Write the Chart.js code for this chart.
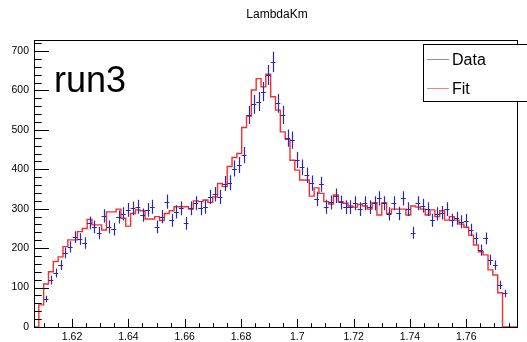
<!DOCTYPE html>
<html>
<head>
<meta charset="utf-8">
<script src="https://cdn.jsdelivr.net/npm/chart.js@4.4.0/dist/chart.umd.min.js"></script>
<style>
   html, body { margin: 0; padding: 0; background: #fff; }
</style>
</head>
<body>
<canvas id="hist" width="527" height="342"></canvas>
<script>
// histogram range (100 bins)
const histLow = 1.6065;
const histHigh = 1.778;

// measured counts per bin, null = empty bin
const dataCounts = [null, null,
   71, 119, 137, 157, 188, 203, 228, 223, 213, 264, 254, 238, 282, 254, 248, 279, 287,
   297, 301, 305, 284, 297, 305, 254, 280, 318, 271, 292, 301, 263, 301, 314, 301, 305,
   330, 337, 330, 364, 366, 402, 411, 436, 538, 565, 572, 597, 639, 672, 567, 538, 479, 474, 424, 405, 385, 365, 325, 362,
   305, 316, 333, 316, 304, 304, 314, 299, 314, 304, 314, 326, 314, 287, 314, 288, 326, 299, 239, 314,
   308, 299, 271, 287, 290, 299, 271, 276, 267, 270, 246, 225, 195, 225, 170, 157, 107, 85,
   null, null];

// fit histogram per bin
const fitCounts = [0, 0,
   56, 109, 140, 166, 178, 204, 221, 221, 242, 250, 273, 259, 259, 246, 292, 292, 299,
   276, 256, 288, 297, 295, 274, 274, 280, 270, 288, 295, 305, 305, 305, 299, 320, 318,
   322, 316, 330, 364, 356, 407, 430, 440, 506, 535, 601, 630, 609, 641, 584, 550, 495, 476, 423, 398, 373, 373, 332, 353,
   339, 318, 312, 335, 318, 314, 307, 304, 311, 307, 299, 315, 284, 315, 288, 299, 299, 299, 284, 307,
   304, 299, 284, 297, 280, 295, 271, 280, 271, 261, 253, 233, 208, 191, 183, 145, 132, 87,
   0, 0];

const xTicks = [1.62, 1.64, 1.66, 1.68, 1.70, 1.72, 1.74, 1.76];
const xTickLabels = ['1.62', '1.64', '1.66', '1.68', '1.7', '1.72', '1.74', '1.76'];
const yTicks = [0, 100, 200, 300, 400, 500, 600, 700];
const yTickLabels = ['0', '100', '200', '300', '400', '500', '600', '700'];
const yMax = 728;

const chartTitle = 'LambdaKm';
const runLabel = 'run3';
const seriesNames = ['Data', 'Fit'];

const blue = '#2a2aa6';
const blueLegend = '#8a8ad8';
const red = '#f23030';
const redLegend = '#f48080';
const fontName = '"Liberation Sans", Arial, sans-serif';

const nBins = fitCounts.length;
const binW = (histHigh - histLow) / nBins;

const dataPoints = [];
dataCounts.forEach((v, i) => {
   if (v !== null) dataPoints.push({ x: histLow + (i + 0.5) * binW, y: v });
});
const fitPoints = fitCounts.map((v, i) => ({ x: histLow + i * binW, y: v }));
fitPoints.push({ x: histHigh, y: 0 });

const crisp = v => Math.round(v) + 0.5;

// ROOT-like frame, inner ticks, error bars, texts, legend
const rootStyle = {
   id: 'rootStyle',
   afterDatasetsDraw(chart) {
      const ctx = chart.ctx;
      const a = chart.chartArea;
      const xs = chart.scales.x;
      const ys = chart.scales.y;

      // error bars
      ctx.save();
      ctx.strokeStyle = blue;
      ctx.lineWidth = 1.2;
      ctx.beginPath();
      dataPoints.forEach(p => {
         const err = Math.sqrt(p.y);
         const px = crisp(xs.getPixelForValue(p.x));
         const py = crisp(ys.getPixelForValue(p.y));
         ctx.moveTo(xs.getPixelForValue(p.x - binW / 2), py);
         ctx.lineTo(xs.getPixelForValue(p.x + binW / 2), py);
         ctx.moveTo(px, ys.getPixelForValue(p.y + err));
         ctx.lineTo(px, ys.getPixelForValue(p.y - err));
      });
      ctx.stroke();
      ctx.restore();

      // frame
      ctx.save();
      ctx.strokeStyle = '#000';
      ctx.lineWidth = 1;
      const L = crisp(a.left), R = crisp(a.right), T = crisp(a.top), B = crisp(a.bottom);
      ctx.strokeRect(L, T, R - L, B - T);

      // ticks
      const hLen = (a.right - a.left) * 0.03;
      const vLen = (a.bottom - a.top) * 0.03;
      ctx.beginPath();
      for (let v = 0; v <= yMax; v += 20) {
         const py = crisp(ys.getPixelForValue(v));
         const len = (v % 100 === 0) ? hLen : hLen / 2;
         ctx.moveTo(L, py);
         ctx.lineTo(L + len, py);
      }
      for (let i = 0; ; i++) {
         const v = 1.61 + i * 0.005;
         if (v > histHigh) break;
         const px = crisp(xs.getPixelForValue(v));
         const major = xTicks.some(t => Math.abs(t - v) < 1e-6);
         ctx.moveTo(px, B);
         ctx.lineTo(px, B - (major ? vLen : vLen / 2));
      }
      ctx.stroke();

      // title and run label
      ctx.fillStyle = '#000';
      ctx.textAlign = 'center';
      ctx.textBaseline = 'alphabetic';
      ctx.font = '12px ' + fontName;
      ctx.fillText(chartTitle, 277, 18);
      ctx.textAlign = 'left';
      ctx.font = '36px ' + fontName;
      ctx.fillText(runLabel, 54, 92);

      // legend
      ctx.fillStyle = '#fff';
      ctx.fillRect(423.5, 44.5, 120, 57);
      ctx.strokeRect(423.5, 44.5, 120, 57);
      const rows = [59.5, 88.5];
      const cols = [blueLegend, redLegend];
      ctx.font = '16px ' + fontName;
      ctx.textBaseline = 'middle';
      rows.forEach((ry, i) => {
         ctx.strokeStyle = cols[i];
         ctx.beginPath();
         ctx.moveTo(427, ry);
         ctx.lineTo(449, ry);
         ctx.stroke();
         ctx.fillStyle = '#000';
         ctx.fillText(chart.data.datasets[i].label, 452, ry + 1);
      });
      ctx.restore();
   }
};

const ctx = document.getElementById('hist').getContext('2d');
new Chart(ctx, {
   type: 'line',
   data: {
      datasets: [
         {
            label: seriesNames[0],
            data: dataPoints,
            showLine: false,
            pointRadius: 0,
            borderColor: blue,
         },
         {
            label: seriesNames[1],
            data: fitPoints,
            stepped: 'after',
            borderColor: red,
            borderWidth: 1.4,
            pointRadius: 0,
            fill: false,
         },
      ],
   },
   options: {
      responsive: false,
      animation: false,
      layout: { padding: { top: 40, right: 10, left: 0, bottom: 0 } },
      scales: {
         x: {
            type: 'linear',
            min: histLow,
            max: histHigh,
            grid: { display: false, drawTicks: false },
            border: { display: false },
            afterBuildTicks: scale => { scale.ticks = xTicks.map(v => ({ value: v })); },
            afterFit: scale => { scale.height = 15; },
            ticks: {
               autoSkip: false,
               maxRotation: 0,
               padding: 4,
               color: '#000',
               font: { family: fontName, size: 10.5 },
               callback: (value, index) => xTickLabels[index],
            },
         },
         y: {
            min: 0,
            max: yMax,
            grid: { display: false, drawTicks: false },
            border: { display: false },
            afterBuildTicks: scale => { scale.ticks = yTicks.map(v => ({ value: v })); },
            afterFit: scale => { scale.width = 34; },
            ticks: {
               autoSkip: false,
               padding: 5,
               color: '#000',
               font: { family: fontName, size: 10.5 },
               callback: (value, index) => yTickLabels[index],
            },
         },
      },
      plugins: {
         legend: false,
         title: { display: false },
         tooltip: { enabled: false },
      },
   },
   plugins: [rootStyle],
});
</script>
</body>
</html>
